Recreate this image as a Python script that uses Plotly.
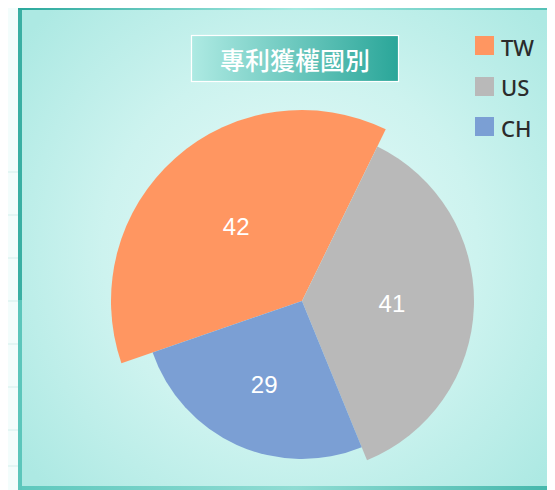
import base64
import plotly.graph_objects as go

# ---- data ----
labels = ["TW", "US", "CH"]
values = [42, 41, 29]
colors = ["#FF9661", "#B9B9B9", "#7B9FD4"]
title_text = "專利獲權國別"

W, H = 555, 490
O = 8  # page offset of the plot inside the browser window


def px(x):
    return (x - O) / W


def py(y):
    return (H - (y - O)) / H


# ---- background (gradients) as inline SVG, coordinates in page pixels shifted by O ----
svg = f'''<svg xmlns="http://www.w3.org/2000/svg" width="{W}" height="{H}" viewBox="0 0 {W} {H}" preserveAspectRatio="none">
<defs>
<radialGradient id="bg" cx="{290-O}" cy="{250-O}" r="340" gradientUnits="userSpaceOnUse">
<stop offset="0" stop-color="#e8fbf9"/><stop offset="0.55" stop-color="#cdf3ef"/><stop offset="1" stop-color="#ade9e3"/>
</radialGradient>
<linearGradient id="top" x1="0" y1="0" x2="1" y2="0">
<stop offset="0" stop-color="#2aa89c"/><stop offset="0.5" stop-color="#a6ebe3"/><stop offset="1" stop-color="#4dbdb2"/>
</linearGradient>
<linearGradient id="bot" x1="0" y1="0" x2="1" y2="0">
<stop offset="0" stop-color="#5ec8bd"/><stop offset="0.5" stop-color="#8fdcd3"/><stop offset="1" stop-color="#3fb4a8"/>
</linearGradient>
<linearGradient id="tb" x1="0" y1="0" x2="1" y2="0">
<stop offset="0" stop-color="#aeeae3"/><stop offset="1" stop-color="#2aa699"/>
</linearGradient>
</defs>
<rect x="0" y="0" width="{W}" height="{H}" fill="#f3fdfc"/>
<g stroke="#e3f6f4" stroke-width="2">
<line x1="0" y1="{172-O}" x2="{18-O}" y2="{172-O}"/><line x1="0" y1="{215-O}" x2="{18-O}" y2="{215-O}"/>
<line x1="0" y1="{258-O}" x2="{18-O}" y2="{258-O}"/><line x1="0" y1="{301-O}" x2="{18-O}" y2="{301-O}"/>
<line x1="0" y1="{344-O}" x2="{18-O}" y2="{344-O}"/><line x1="0" y1="{387-O}" x2="{18-O}" y2="{387-O}"/>
<line x1="0" y1="{430-O}" x2="{18-O}" y2="{430-O}"/><line x1="0" y1="{466-O}" x2="{18-O}" y2="{466-O}"/>
</g>
<rect x="{18-O}" y="{4-O}" width="{W}" height="{H}" fill="#3aafa3"/>
<rect x="{18-O}" y="0" width="{W}" height="{10-O}" fill="url(#top)"/>
<rect x="{18-O}" y="{486-O}" width="{W}" height="{H}" fill="url(#bot)"/>
<rect x="{18-O}" y="{300-O}" width="4" height="200" fill="#5cc6bb"/>
<rect x="{22-O}" y="{10-O}" width="{W}" height="{476}" fill="url(#bg)"/>
<rect x="{191.5-O}" y="{35.5-O}" width="207" height="46" fill="url(#tb)" stroke="#ffffff" stroke-width="1.2"/>
</svg>'''
src = "data:image/svg+xml;base64," + base64.b64encode(svg.encode()).decode()

fig = go.Figure()

# each slice drawn in its own pie with its own domain size (layout only)
cx, cy = 302, 301
radii = [191, 172, 158]
for i, r in enumerate(radii):
    x0, x1 = px(cx - r), px(cx + r)
    y0, y1 = py(cy + r), py(cy - r)
    y0 = max(y0, 0)
    mc = [colors[j] if j == i else "rgba(0,0,0,0)" for j in range(len(values))]
    tt = ["%{value}" if j == i else "" for j in range(len(values))]
    fig.add_trace(go.Pie(
        labels=labels, values=values, sort=False, direction="clockwise",
        rotation=251, domain=dict(x=[x0, x1], y=[y0, y1]),
        marker=dict(colors=mc, line=dict(width=0)),
        texttemplate=tt, textposition="inside", insidetextorientation="horizontal",
        textfont=dict(family="Liberation Sans, Arial", size=24, color="#ffffff"),
        hoverinfo="label+value",
        showlegend=False,
    ))

# custom legend
shapes = []
annotations = []
leg_y = [45.5, 86.5, 126.5]
for lab, col, yy in zip(labels, colors, leg_y):
    shapes.append(dict(type="rect", xref="paper", yref="paper",
                       x0=px(475), x1=px(494), y0=py(yy + 9.5), y1=py(yy - 9.5),
                       fillcolor=col, line=dict(width=0), layer="above"))
    annotations.append(dict(text=lab, xref="paper", yref="paper", x=px(499), y=py(yy + 1),
                            xanchor="left", yanchor="middle", showarrow=False,
                            font=dict(family="Noto Sans", size=22, color="#2b2b2b", weight=500)))

annotations.append(dict(text=title_text, xref="paper", yref="paper", x=px(295), y=py(59),
                        xanchor="center", yanchor="middle", showarrow=False,
                        font=dict(family="Noto Sans CJK TC", size=25, color="#ffffff", weight=500)))

fig.update_layout(
    width=W, height=H, margin=dict(l=0, r=0, t=0, b=0),
    paper_bgcolor="#f3fdfc", plot_bgcolor="rgba(0,0,0,0)",
    images=[dict(source=src, xref="paper", yref="paper", x=0, y=1, sizex=1, sizey=1,
                 xanchor="left", yanchor="top", sizing="stretch", layer="below")],
    shapes=shapes, annotations=annotations,
)

fig.write_html("out.html")
